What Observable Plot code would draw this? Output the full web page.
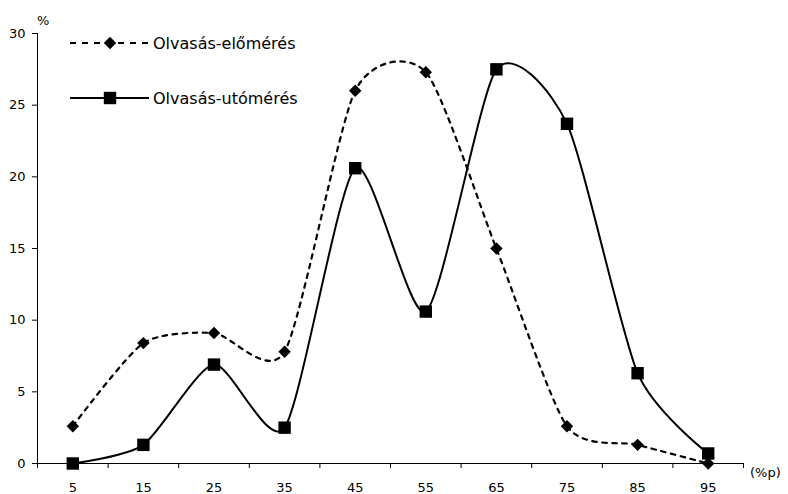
<!DOCTYPE html>
<html>
<head>
<meta charset="utf-8">
<script src="https://cdn.jsdelivr.net/npm/d3@7"></script>
<script src="https://cdn.jsdelivr.net/npm/@observablehq/plot@0.6"></script>
<style>
  html, body { margin: 0; padding: 0; background: #fff; }
  #wrap { position: relative; width: 788px; height: 494px; font-family: "DejaVu Sans", Verdana, sans-serif; }
  #wrap svg { display: block; }
  .ov { position: absolute; top: 0; left: 0; pointer-events: none; }
</style>
</head>
<body>
<div id="wrap"></div>
<script>
const categories = [5, 15, 25, 35, 45, 55, 65, 75, 85, 95];
const preValues  = [2.6, 8.4, 9.1, 7.8, 26.0, 27.3, 15.0, 2.6, 1.3, 0.0];
const postValues = [0.0, 1.3, 6.9, 2.5, 20.6, 10.6, 27.5, 23.7, 6.3, 0.7];
const yTicks = [0, 5, 10, 15, 20, 25, 30];
const xBounds = [0, 10, 20, 30, 40, 50, 60, 70, 80, 90, 100];
const seriesNames = ["Olvasás-előmérés", "Olvasás-utómérés"];

const pre = categories.map((c, i) => ({x: c, y: preValues[i]}));
const post = categories.map((c, i) => ({x: c, y: postValues[i]}));

const chart = Plot.plot({
  width: 788,
  height: 494,
  marginLeft: 37,
  marginRight: 45,
  marginTop: 33,
  marginBottom: 31,
  style: {fontFamily: '"DejaVu Sans", Verdana, sans-serif', fontSize: "13px", color: "#000", background: "#fff"},
  x: {type: "linear", domain: [0, 100]},
  y: {domain: [0, 30]},
  marks: [
    Plot.axisY({ticks: yTicks, tickSize: 5, tickPadding: 7, tickFormat: d => String(d), label: null, stroke: "#000", fontSize: 13}),
    Plot.axisX({ticks: xBounds, tickSize: 5, tickFormat: () => "", label: null, stroke: "#000"}),
    Plot.axisX({ticks: categories, tickSize: 0, tickPadding: 19, tickFormat: d => String(d), label: null, fontSize: 13}),
    Plot.ruleY([0], {stroke: "#000", strokeWidth: 1}),
    Plot.ruleX([0], {stroke: "#000", strokeWidth: 1}),
    Plot.line(pre, {x: "x", y: "y", curve: "cardinal", tension: 0.3, stroke: "#000", strokeWidth: 2.2, strokeDasharray: "4.5,5.5"}),
    Plot.line(post, {x: "x", y: "y", curve: "cardinal", tension: 0.3, stroke: "#000", strokeWidth: 2}),
    Plot.dot(pre, {x: "x", y: "y", symbol: "diamond2", r: 5.6, fill: "#000", stroke: "none"}),
    Plot.dot(post, {x: "x", y: "y", symbol: "square", r: 7, fill: "#000", stroke: "none"})
  ]
});
const wrap = document.getElementById("wrap");
wrap.appendChild(chart);

// Overlay: legend and axis unit labels
const ov = d3.select(wrap).append("svg").attr("class", "ov").attr("width", 788).attr("height", 494)
  .style("font-family", '"DejaVu Sans", Verdana, sans-serif');
// legend row 1 (dashed + diamond)
ov.append("line").attr("x1", 70).attr("x2", 149).attr("y1", 43).attr("y2", 43)
  .attr("stroke", "#000").attr("stroke-width", 2.2).attr("stroke-dasharray", "6,6");
ov.append("path").attr("d", d3.symbol(d3.symbolDiamond2, Math.PI * 5.6 * 5.6)()).attr("transform", "translate(110,43)").attr("fill", "#000");
ov.append("text").attr("x", 153).attr("y", 49).attr("font-size", 16).text(seriesNames[0]);
// legend row 2 (solid + square)
ov.append("line").attr("x1", 70).attr("x2", 149).attr("y1", 98).attr("y2", 98)
  .attr("stroke", "#000").attr("stroke-width", 2);
ov.append("path").attr("d", d3.symbol(d3.symbolSquare, Math.PI * 7 * 7)()).attr("transform", "translate(110,98)").attr("fill", "#000");
ov.append("text").attr("x", 153).attr("y", 104).attr("font-size", 16).text(seriesNames[1]);
// unit labels
ov.append("text").attr("x", 37).attr("y", 25).attr("font-size", 13).text("%");
ov.append("text").attr("x", 750).attr("y", 477).attr("font-size", 13).text("(%p)");
</script>
</body>
</html>
